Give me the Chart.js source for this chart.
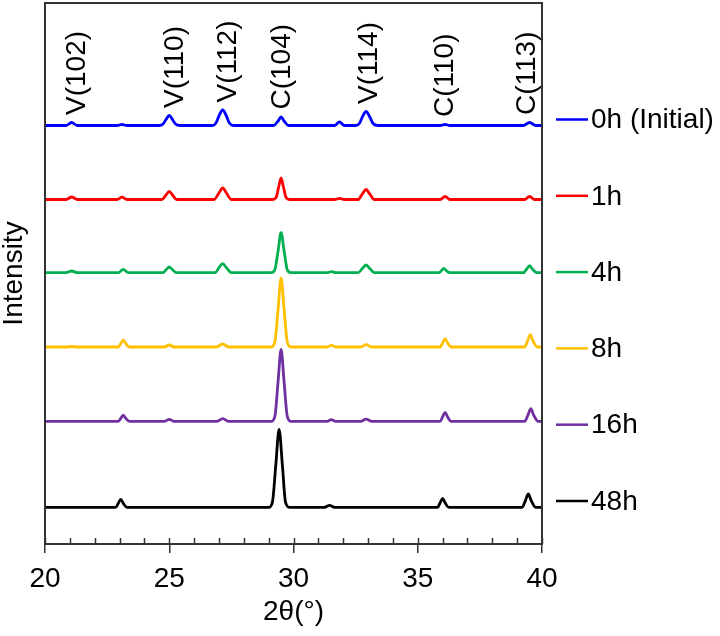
<!DOCTYPE html>
<html>
<head>
<meta charset="utf-8">
<title>XRD patterns</title>
<script src="https://cdn.jsdelivr.net/npm/chart.js@4.4.1/dist/chart.umd.min.js"></script>
<style>
  body { margin: 0; background: #fff; }
  #xrdChart { display: block; }
</style>
</head>
<body>
<canvas id="xrdChart" width="720" height="636"></canvas>
<script>
// series names and colours
const seriesNames = ["0h (Initial)", "1h", "4h", "8h", "16h", "48h"];
const seriesColors = ["#0000ff", "#ff0000", "#00b050", "#ffc000", "#7030a0", "#000000"];
// vertical stacking offset of each pattern (arb. units)
const offsets = [418.5, 344.5, 271.3, 197, 122.6, 36.7];

// [2theta, intensity]
const xrd0h = [
  [20, 0], [20.85, 0], [21.07, 3], [21.3, 0],
  [22.9, 0], [23.1, 1], [23.3, 0],
  [24.6, 0], [24.75, 1.5], [24.87, 6], [25.0, 10], [25.13, 6], [25.25, 1.5], [25.45, 0],
  [26.75, 0], [26.88, 2.5], [27.0, 9.5], [27.15, 15.5], [27.3, 9.5], [27.42, 2.5], [27.6, 0],
  [29.2, 0], [29.38, 4.5], [29.5, 8.5], [29.62, 4.5], [29.8, 0],
  [31.65, 0], [31.85, 3.5], [32.05, 0],
  [32.5, 0], [32.65, 2], [32.77, 8.5], [32.92, 14], [33.07, 8.5], [33.2, 2], [33.4, 0],
  [35.9, 0], [36.1, 1], [36.3, 0],
  [39.25, 0], [39.5, 3], [39.75, 0], [40, 0]
];
const xrd1h = [
  [20, 0], [20.85, 0], [21.07, 2.5], [21.3, 0],
  [22.9, 0], [23.1, 2.3], [23.3, 0],
  [24.7, 0], [24.87, 4.5], [25.0, 8], [25.13, 4.5], [25.3, 0],
  [26.8, 0], [27.0, 6.5], [27.15, 11.5], [27.3, 6.5], [27.5, 0],
  [29.15, 0], [29.3, 2], [29.4, 12], [29.5, 21.5], [29.6, 12], [29.7, 2], [29.85, 0],
  [31.65, 0], [31.85, 1], [32.05, 0],
  [32.6, 0], [32.77, 5.5], [32.92, 10], [33.07, 5.5], [33.25, 0],
  [35.9, 0], [36.1, 3], [36.3, 0],
  [39.3, 0], [39.5, 3], [39.7, 0], [40, 0]
];
const xrd4h = [
  [20, 0], [20.85, 0], [21.07, 1.7], [21.3, 0],
  [22.95, 0], [23.15, 3.3], [23.35, 0],
  [24.75, 0], [24.88, 3.2], [25.0, 5.7], [25.12, 3.2], [25.3, 0],
  [26.85, 0], [27.0, 5], [27.15, 9], [27.3, 5], [27.5, 0],
  [29.1, 0], [29.25, 3], [29.38, 22], [29.5, 40], [29.62, 22], [29.75, 3], [29.9, 0],
  [31.35, 0], [31.52, 1], [31.7, 0],
  [32.6, 0], [32.77, 4.3], [32.92, 7.7], [33.07, 4.3], [33.25, 0],
  [35.85, 0], [35.95, 2], [36.05, 4.3], [36.15, 2], [36.3, 0],
  [39.25, 0], [39.38, 3.5], [39.5, 7], [39.62, 3.5], [39.78, 0], [40, 0]
];
const xrd8h = [
  [20, 0], [20.85, 0], [21.07, 0.5], [21.3, 0],
  [22.95, 0], [23.05, 3.5], [23.15, 7], [23.25, 3.5], [23.4, 0],
  [24.8, 0], [25.0, 2], [25.2, 0],
  [26.9, 0], [27.15, 3], [27.4, 0],
  [29.1, 0], [29.25, 5], [29.38, 38], [29.5, 69], [29.62, 38], [29.75, 5], [29.9, 0],
  [31.35, 0], [31.52, 1.7], [31.7, 0],
  [32.7, 0], [32.92, 2.3], [33.15, 0],
  [35.9, 0], [36.0, 4], [36.1, 8.3], [36.2, 4], [36.35, 0],
  [39.3, 0], [39.42, 6], [39.53, 12.3], [39.64, 6], [39.8, 0], [40, 0]
];
const xrd16h = [
  [20, 0], [22.95, 0], [23.05, 3], [23.15, 6.3], [23.25, 3], [23.4, 0],
  [24.8, 0], [25.0, 2], [25.2, 0],
  [26.9, 0], [27.15, 2.7], [27.4, 0],
  [29.1, 0], [29.25, 5], [29.38, 40], [29.5, 72], [29.62, 40], [29.75, 5], [29.9, 0],
  [31.35, 0], [31.52, 1.7], [31.7, 0],
  [32.7, 0], [32.92, 2.3], [33.15, 0],
  [35.9, 0], [36.0, 4.5], [36.1, 9], [36.2, 4.5], [36.35, 0],
  [39.3, 0], [39.43, 6], [39.55, 12.7], [39.67, 6], [39.85, 0], [40, 0]
];
const xrd48h = [
  [20, 0], [22.85, 0], [22.95, 4], [23.05, 8], [23.15, 4], [23.3, 0],
  [29.0, 0], [29.15, 5], [29.29, 43], [29.42, 78], [29.55, 43], [29.68, 5], [29.85, 0],
  [31.25, 0], [31.45, 2], [31.65, 0],
  [35.8, 0], [35.9, 4.5], [36.0, 9], [36.1, 4.5], [36.25, 0],
  [39.2, 0], [39.33, 6.5], [39.45, 13.3], [39.57, 6.5], [39.75, 0], [40, 0]
];
const patterns = [xrd0h, xrd1h, xrd4h, xrd8h, xrd16h, xrd48h];

// peak labels
const peakLabels = ["V(102)", "V(110)", "V(112)", "C(104)", "V(114)", "C(110)", "C(113)"];
const peakLabelPos = [21.3, 25.23, 27.37, 29.53, 33.03, 36.12, 39.4];

const FONT = '"Liberation Sans", Arial, sans-serif';
const FRAME = "#333333";

const datasets = patterns.map(function (pts, i) {
  return {
    label: seriesNames[i],
    data: pts.map(function (p) { return { x: p[0], y: p[1] + offsets[i] }; }),
    borderColor: seriesColors[i],
    borderWidth: 2.8,
    pointRadius: 0,
    fill: false,
    cubicInterpolationMode: "monotone"
  };
});

// frame, inward ticks, peak labels and legend
const decorations = {
  id: "decorations",
  afterDraw: function (chart) {
    const ctx = chart.ctx;
    const area = chart.chartArea;
    const xs = chart.scales.x;
    const ys = chart.scales.y;
    ctx.save();

    // box
    ctx.strokeStyle = FRAME;
    ctx.lineWidth = 2;
    ctx.strokeRect(area.left, area.top, area.right - area.left, area.bottom - area.top);

    // inward ticks on the bottom axis
    ctx.lineWidth = 1.5;
    for (let v = 20; v <= 40; v++) {
      const px = Math.round(xs.getPixelForValue(v)) + 0.5;
      ctx.beginPath();
      ctx.moveTo(px, area.bottom);
      ctx.lineTo(px, area.bottom - 6);
      ctx.stroke();
    }

    // peak labels above the top pattern
    ctx.fillStyle = "#000";
    ctx.font = "28px " + FONT;
    ctx.textAlign = "left";
    ctx.textBaseline = "middle";
    peakLabels.forEach(function (txt, i) {
      const pos = peakLabelPos[i];
      let top = 0;
      xrd0h.forEach(function (p) {
        if (Math.abs(p[0] - pos) < 0.4 && p[1] > top) top = p[1];
      });
      const px = xs.getPixelForValue(pos);
      const py = ys.getPixelForValue(offsets[0] + top) - 7.5;
      ctx.save();
      ctx.translate(px, py);
      ctx.rotate(-Math.PI / 2);
      ctx.fillText(txt, 0, 0);
      ctx.restore();
    });

    // legend at the right
    ctx.lineWidth = 2.5;
    seriesNames.forEach(function (name, i) {
      const ly = area.top + 116.5 + i * 76.3;
      ctx.strokeStyle = seriesColors[i];
      ctx.beginPath();
      ctx.moveTo(area.right + 14, ly);
      ctx.lineTo(area.right + 46, ly);
      ctx.stroke();
      ctx.fillStyle = "#000";
      ctx.fillText(name, area.right + 49, ly + 1);
    });

    ctx.restore();
  }
};

const chart = new Chart(document.getElementById("xrdChart"), {
  type: "line",
  data: { datasets: datasets },
  plugins: [decorations],
  options: {
    responsive: false,
    animation: false,
    layout: { padding: { top: 3, right: 178, left: 0, bottom: 0 } },
    plugins: {
      legend: { display: false },
      tooltip: { enabled: false }
    },
    scales: {
      x: {
        type: "linear",
        min: 20,
        max: 40,
        afterFit: function (scale) { scale.height = 92; },
        border: { display: true, color: FRAME, width: 2 },
        grid: {
          drawOnChartArea: false,
          drawTicks: true,
          tickLength: 9,
          lineWidth: 1.5,
          color: function (c) {
            return c.tick && c.tick.value % 5 === 0 ? FRAME : "rgba(0,0,0,0)";
          }
        },
        ticks: {
          stepSize: 1,
          autoSkip: false,
          maxRotation: 0,
          padding: 9,
          color: "#000",
          font: { family: FONT, size: 28 },
          callback: function (v) { return v % 5 === 0 ? String(v) : ""; }
        },
        title: {
          display: true,
          text: "2θ(°)",
          color: "#000",
          font: { family: FONT, size: 28, lineHeight: 1.2 },
          padding: { top: 0, bottom: 7 }
        }
      },
      y: {
        min: 0,
        max: 541,
        afterFit: function (scale) { scale.width = 45; },
        border: { display: false },
        grid: { display: false },
        ticks: { display: false },
        title: {
          display: true,
          text: "Intensity",
          color: "#000",
          font: { family: FONT, size: 28, lineHeight: 1 },
          padding: 0
        }
      }
    }
  }
});
</script>
</body>
</html>
